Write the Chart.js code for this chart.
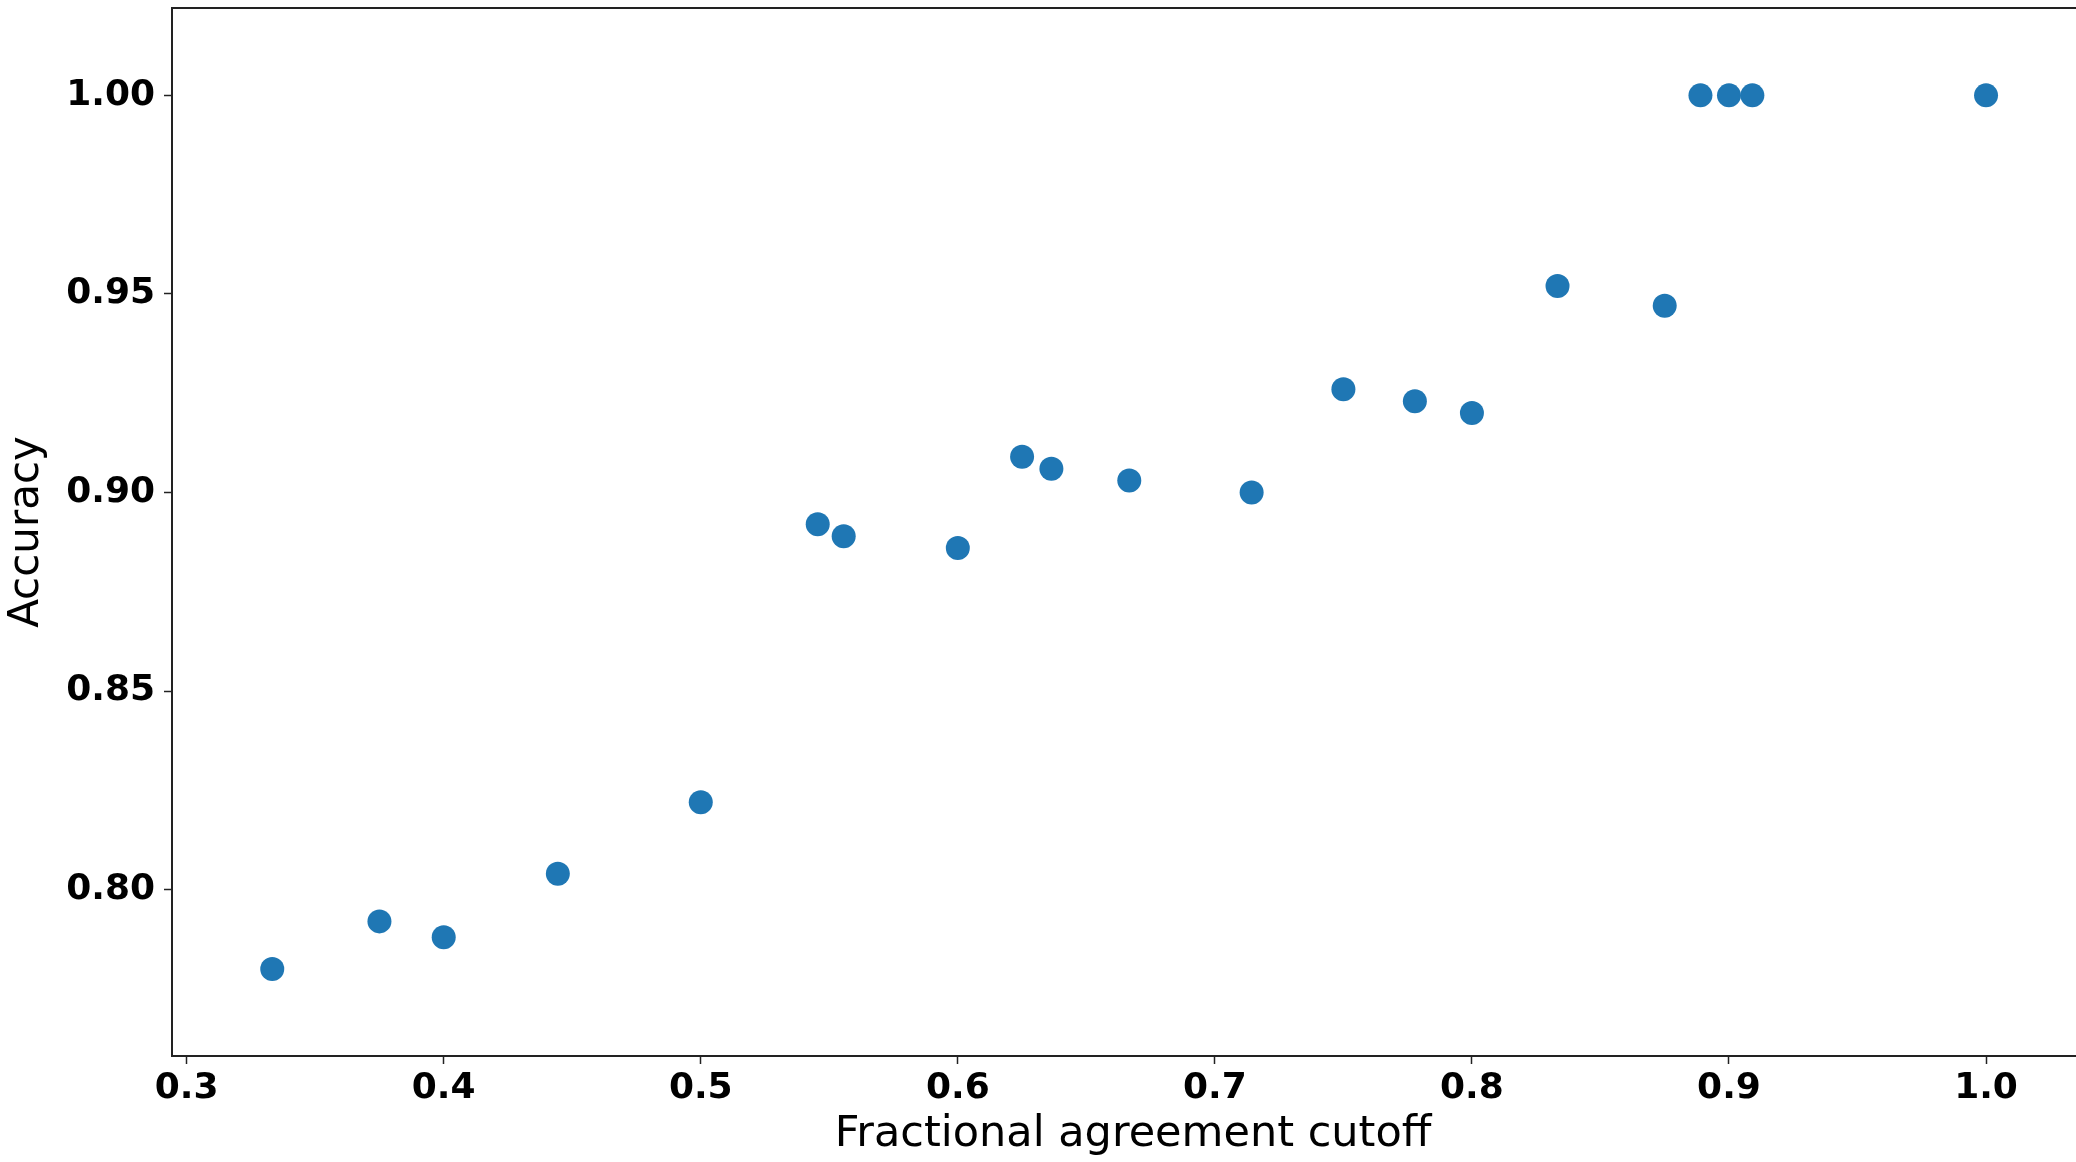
<!DOCTYPE html>
<html>
<head>
<meta charset="utf-8">
<script src="https://cdn.jsdelivr.net/npm/chart.js@4/dist/chart.umd.min.js"></script>
<style>
  html, body { margin: 0; padding: 0; background: #fff; overflow: hidden; }
  #wrap { position: absolute; left: 0; top: -4px; width: 2106px; height: 1166px; }
</style>
</head>
<body>
<div id="wrap"><canvas id="chart" width="2106" height="1166"></canvas></div>
<script>
const cutoffs = [0.3333, 0.375, 0.4, 0.4444, 0.5, 0.5455, 0.5556, 0.6, 0.625, 0.6364,
  0.6667, 0.7143, 0.75, 0.7778, 0.8, 0.8333, 0.875, 0.8889, 0.9, 0.9091, 1.0];
const accuracy = [0.780, 0.792, 0.788, 0.804, 0.822, 0.892, 0.889, 0.886, 0.909, 0.906,
  0.903, 0.900, 0.926, 0.923, 0.920, 0.952, 0.947, 1.000, 1.000, 1.000, 1.000];
const xTicks = [0.3, 0.4, 0.5, 0.6, 0.7, 0.8, 0.9, 1.0];
const yTicks = [0.80, 0.85, 0.90, 0.95, 1.00];

const FONT = "'DejaVu Sans', sans-serif";

// top/right frame like matplotlib's spines
const frame = {
  id: "frame",
  afterDraw(chart) {
    const { ctx, chartArea: a } = chart;
    ctx.save();
    ctx.strokeStyle = "#222";
    ctx.lineWidth = 2;
    ctx.beginPath();
    ctx.moveTo(a.left, a.top);
    ctx.lineTo(a.right, a.top);
    ctx.lineTo(a.right, a.bottom);
    ctx.stroke();
    ctx.restore();
  }
};

const ctx = document.getElementById("chart").getContext("2d");
new Chart(ctx, {
  type: "scatter",
  data: {
    datasets: [{
      data: cutoffs.map((x, i) => ({ x: x, y: accuracy[i] })),
      backgroundColor: "#1f77b4",
      borderWidth: 0,
      pointRadius: 12,
      pointHoverRadius: 12
    }]
  },
  options: {
    responsive: false,
    animation: false,
    devicePixelRatio: 1,
    layout: { padding: 0 },
    plugins: { legend: { display: false }, tooltip: { enabled: false } },
    scales: {
      x: {
        type: "linear",
        min: 0.2943,
        max: 1.042,
        afterFit: s => { s.height = 106; s.paddingLeft = 0; s.paddingRight = 0; },
        afterBuildTicks: s => { s.ticks = xTicks.map(v => ({ value: v })); },
        grid: { drawOnChartArea: false, drawTicks: true, tickLength: 8, tickColor: "#222", tickWidth: 1.5 },
        border: { display: true, color: "#222", width: 2 },
        ticks: {
          color: "#000",
          padding: 3,
          font: { family: FONT, size: 36, weight: "bold" },
          callback: v => Number(v).toFixed(1)
        },
        title: {
          display: true,
          text: "Fractional agreement cutoff",
          color: "#000",
          padding: { top: 0, bottom: 1 },
          font: { family: FONT, size: 43 }
        }
      },
      y: {
        type: "linear",
        min: 0.7581,
        max: 1.022,
        afterFit: s => { s.width = 172; s.paddingTop = 0; s.paddingBottom = 0; },
        afterBuildTicks: s => { s.ticks = yTicks.map(v => ({ value: v })); },
        grid: { drawOnChartArea: false, drawTicks: true, tickLength: 8, tickColor: "#222", tickWidth: 1.5 },
        border: { display: true, color: "#222", width: 2 },
        ticks: {
          color: "#000",
          padding: 9,
          font: { family: FONT, size: 36, weight: "bold" },
          callback: v => Number(v).toFixed(2)
        },
        title: {
          display: true,
          text: "Accuracy",
          color: "#000",
          padding: { top: 2, bottom: 0 },
          font: { family: FONT, size: 42 }
        }
      }
    }
  },
  plugins: [frame]
});
</script>
</body>
</html>
